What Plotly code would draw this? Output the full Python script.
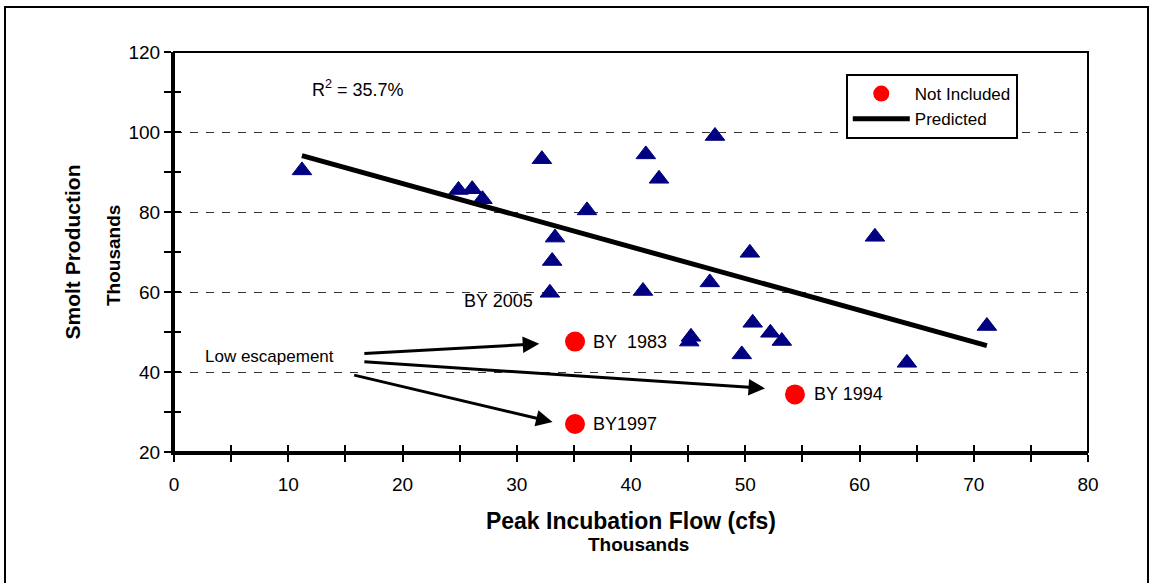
import plotly.graph_objects as go

# Brood years used in the regression: peak incubation flow (thousand cfs) vs smolts (thousands)
flow_included = [11.2, 24.9, 26.1, 27.0, 32.2, 41.3, 42.45, 47.35, 36.15, 33.35, 33.1, 32.9,
                 41.05, 46.9, 50.4, 61.35, 50.65, 52.2, 53.2, 49.7, 64.15, 71.15, 45.25, 45.1]
smolt_included = [90.4, 85.5, 85.7, 83.2, 93.2, 94.4, 88.3, 99.0, 80.4, 73.6, 67.75, 59.8,
                  60.25, 62.4, 69.8, 73.8, 52.3, 49.8, 47.75, 44.4, 42.3, 51.5, 48.8, 47.6]

# Low-escapement brood years left out of the fit
flow_excluded = [35.1, 35.1, 54.35]
smolt_excluded = [47.6, 27.0, 34.4]
excluded_labels = ["BY\u00a0 1983", "BY1997", "BY 1994"]

# Fitted line end points
pred_flow = [11.2, 71.15]
pred_smolt = [94.1, 46.6]

x_ticks = [0, 10, 20, 30, 40, 50, 60, 70, 80]
y_ticks = [20, 40, 60, 80, 100, 120]

FONT = "Liberation Sans, Arial, sans-serif"

fig = go.Figure()

fig.add_trace(go.Scatter(
    x=flow_included, y=smolt_included, mode="markers", name="Included",
    showlegend=False,
    marker=dict(symbol="triangle-up", size=17, color="#000080",
                line=dict(color="#000080", width=1)),
))
fig.add_trace(go.Scatter(
    x=pred_flow, y=pred_smolt, mode="lines", name="Predicted", legendrank=2,
    line=dict(color="black", width=5),
))
fig.add_trace(go.Scatter(
    x=flow_excluded, y=smolt_excluded, mode="markers", name="Not Included", legendrank=1,
    marker=dict(symbol="circle", size=20, color="#ff0000"),
))
# empty trace so the overlaid tick axes get drawn
fig.add_trace(go.Scatter(x=[], y=[], xaxis="x2", yaxis="y2", showlegend=False,
                         hoverinfo="skip"))

tick_font = dict(family=FONT, size=19, color="black")

xaxis = dict(
    range=[0, 80], tickvals=x_ticks, ticks="outside", ticklen=7, tickwidth=2,
    tickcolor="black", tickfont=tick_font, ticklabelstandoff=6,
    showline=True, linecolor="black", linewidth=3, showgrid=False, zeroline=False,
    minor=dict(dtick=5, ticks="outside", ticklen=7, tickwidth=2, tickcolor="black"),
    title=dict(text="<b>Peak Incubation Flow (cfs)</b>",
               font=dict(family=FONT, size=23, color="black"), standoff=20),
)
yaxis = dict(
    range=[20, 120], tickvals=y_ticks, ticks="outside", ticklen=7, tickwidth=2,
    tickcolor="black", tickfont=tick_font,
    showline=True, linecolor="black", linewidth=3, zeroline=False,
    showgrid=True, gridcolor="#333333", gridwidth=1, griddash="8px,8px",
    minor=dict(dtick=10, ticks="outside", ticklen=7, tickwidth=2, tickcolor="black"),
    title=dict(text="<b>Smolt Production</b>",
               font=dict(family=FONT, size=21, color="black"), standoff=43),
)
# Inside halves of the crossing tick marks
xaxis2 = dict(overlaying="x", anchor="y", side="bottom", range=[0, 80], dtick=5,
              ticks="inside", ticklen=7, tickwidth=2, tickcolor="black",
              showticklabels=False, showgrid=False, zeroline=False, showline=False)
yaxis2 = dict(overlaying="y", anchor="x", side="left", range=[20, 120], dtick=10,
              ticks="inside", ticklen=7, tickwidth=2, tickcolor="black",
              showticklabels=False, showgrid=False, zeroline=False, showline=False)

annotations = [
    # unit lines under the axis titles
    dict(x=(113 - 174) / 914, y=0.49, xref="paper", yref="paper", text="<b>Thousands</b>",
         xanchor="center", yanchor="middle",
         textangle=-90, showarrow=False, font=dict(family=FONT, size=19, color="black")),
    dict(x=(638 - 174) / 914, y=(452 - 544) / 400, xref="paper", yref="paper",
         text="<b>Thousands</b>", xanchor="center", yanchor="middle",
         showarrow=False, font=dict(family=FONT, size=19, color="black")),
    dict(x=11.9, y=111, xref="x", yref="y", text="R<sup>2</sup> = 35.7%", xanchor="left",
         showarrow=False, font=dict(family=FONT, size=18, color="black")),
    dict(x=31.6, y=57.8, xref="x", yref="y", text="BY 2005", xanchor="right",
         showarrow=False, font=dict(family=FONT, size=18, color="black")),
    dict(x=2.56, y=43.8, xref="x", yref="y", text="Low escapement", xanchor="left",
         showarrow=False, font=dict(family=FONT, size=17, color="black")),
]
label_x = [36.48, 36.48, 55.8]
for lx, ly, txt in zip(label_x, smolt_excluded, excluded_labels):
    annotations.append(dict(x=lx, y=ly, xref="x", yref="y", text=txt, xanchor="left",
                            showarrow=False, font=dict(family=FONT, size=18, color="black")))

# Arrows from the "Low escapement" note to the excluded years
arrow_tails = [(16.53, 44.6), (16.53, 42.6), (15.64, 39.3)]
arrow_heads = [(31.97, 47.05), (51.73, 35.9), (33.13, 27.5)]
for (tx, ty), (hx, hy) in zip(arrow_tails, arrow_heads):
    annotations.append(dict(x=hx, y=hy, ax=tx, ay=ty, xref="x", yref="y", axref="x", ayref="y",
                            text="", showarrow=True, arrowhead=2, arrowsize=1.1,
                            arrowwidth=3, arrowcolor="black"))

shapes = [
    # plot frame top and right
    dict(type="rect", xref="paper", yref="paper", x0=0, y0=0, x1=1, y1=1,
         line=dict(color="black", width=2), layer="above"),
    # outer chart border
    dict(type="rect", xref="paper", yref="paper",
         x0=(5 - 174) / 914, x1=(1148 - 174) / 914, y0=(452 - 590) / 400, y1=(452 - 7) / 400,
         line=dict(color="black", width=2)),
]

fig.update_layout(
    width=1153, height=583,
    margin=dict(l=174, r=65, t=52, b=131),
    paper_bgcolor="white", plot_bgcolor="white",
    font=dict(family=FONT, color="black"),
    xaxis=xaxis, yaxis=yaxis, xaxis2=xaxis2, yaxis2=yaxis2,
    annotations=annotations, shapes=shapes,
    legend=dict(x=0.735, y=0.945, xanchor="left", yanchor="top",
                bgcolor="white", bordercolor="black", borderwidth=2,
                font=dict(family=FONT, size=17, color="black"),
                itemwidth=57, tracegroupgap=0),
)

fig.write_html("out.html")
